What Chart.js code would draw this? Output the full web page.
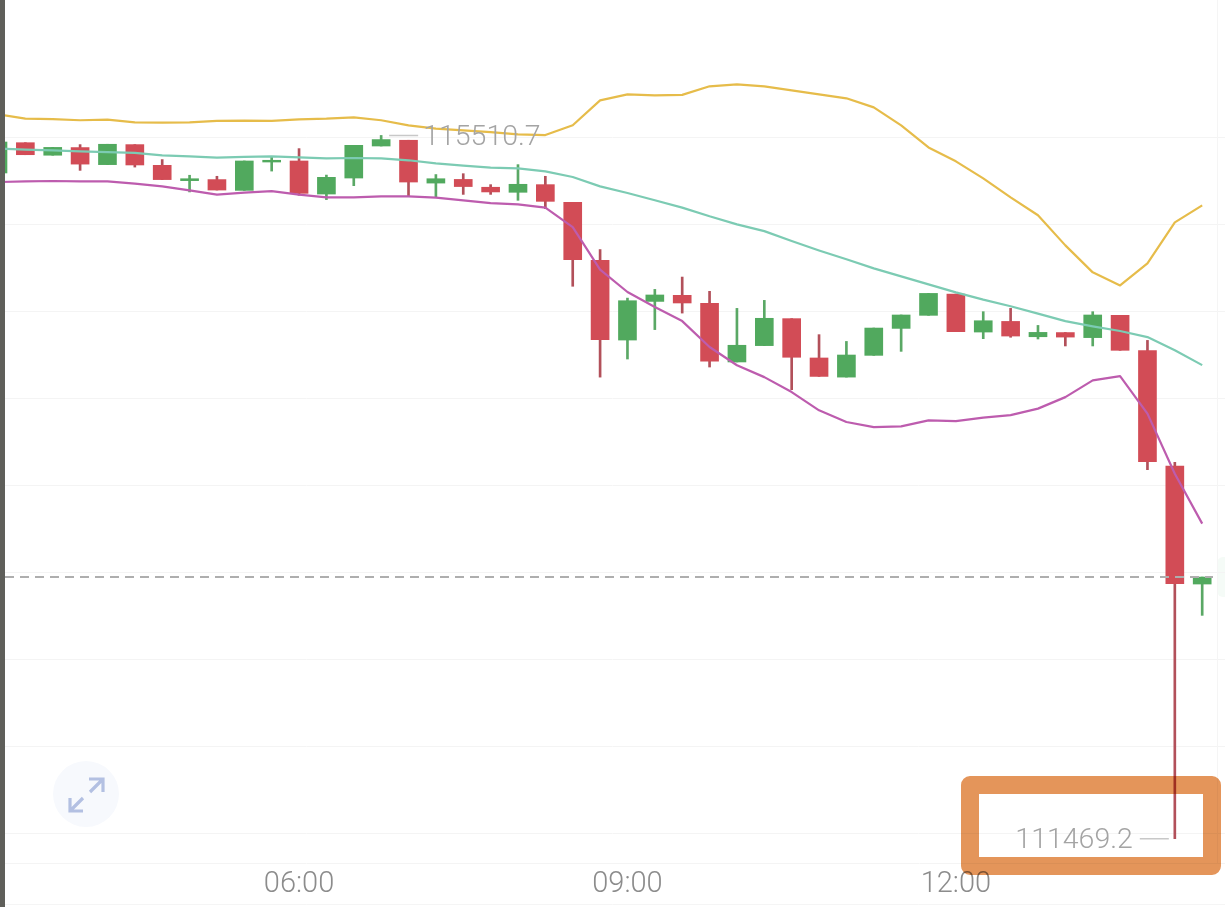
<!DOCTYPE html>
<html>
<head>
<meta charset="utf-8">
<title>Candlestick chart</title>
<script src="https://cdn.jsdelivr.net/npm/chart.js@4"></script>
<style>
  html, body { margin: 0; padding: 0; background: #fff; }
  #wrap { position: relative; width: 1225px; height: 907px; overflow: hidden; background: #fff; }
  #chart { position: absolute; left: 0; top: 0; }
  #edge { position: absolute; left: 0; top: 0; width: 5px; height: 907px; background: #5f5f5a; }
  #tag { position: absolute; left: 1217px; top: 557px; width: 8px; height: 40px; background: #f5fbf7; border-radius: 6px 0 0 6px; }
  #box {
    position: absolute; left: 961px; top: 776px; width: 224px; height: 63px;
    border: 18px solid #e4955a; border-radius: 9px; mix-blend-mode: multiply;
  }
  #expand { position: absolute; left: 52px; top: 760px; }
</style>
</head>
<body>
<div id="wrap">
  <div id="tag"></div>
  <canvas id="chart" width="1225" height="907"></canvas>
  <div id="edge"></div>
  <div id="box"></div>
  <svg id="expand" width="68" height="68" viewBox="52 760 68 68">
    <circle cx="86" cy="794" r="33" fill="#f7f9fd"/>
    <g fill="none" stroke="#b3c0e2" stroke-width="3.2">
      <path d="M89 779H103V792M103 779L90 792"/>
      <path d="M70 798V811H83M70 811L83 798"/>
    </g>
  </svg>
</div>
<script>
// ============================================================================
// DATA
// ============================================================================

// 15 minute candles
const candleTimes = [
  '03:15', '03:30', '03:45', '04:00', '04:15', '04:30', '04:45', '05:00', '05:15',
  '05:30', '05:45', '06:00', '06:15', '06:30', '06:45', '07:00', '07:15', '07:30',
  '07:45', '08:00', '08:15', '08:30', '08:45', '09:00', '09:15', '09:30', '09:45',
  '10:00', '10:15', '10:30', '10:45', '11:00', '11:15', '11:30', '11:45', '12:00',
  '12:15', '12:30', '12:45', '13:00', '13:15', '13:30', '13:45', '14:00', '14:15'
];
const candleOpen = [
  115295, 115469, 115397, 115441, 115343, 115458, 115339, 115251, 115257, 115195,
  115358, 115364, 115174, 115266, 115450, 115483, 115237, 115258, 115213, 115184,
  115228, 115126, 114793, 114335, 114557, 114592, 114546, 114209, 114303, 114458,
  114232, 114122, 114247, 114402, 114477, 114599, 114381, 114442, 114354, 114378,
  114349, 114477, 114274, 113611, 112933
];
const candleHigh = [
  115473, 115469, 115442, 115458, 115460, 115458, 115372, 115282, 115276, 115364,
  115387, 115435, 115283, 115454, 115510.7, 115483, 115286, 115291, 115228, 115343,
  115276, 115126, 114855, 114576, 114626, 114697, 114615, 114517, 114563, 114458,
  114366, 114327, 114404, 114479, 114603, 114599, 114498, 114517, 114419, 114378,
  114498, 114477, 114333, 113632, 112973
];
const candleLow = [
  115295, 115400, 115397, 115310, 115343, 115329, 115257, 115186, 115197, 115195,
  115306, 115167, 115142, 115222, 115450, 115161, 115153, 115172, 115172, 115138,
  115090, 114644, 114122, 114226, 114395, 114490, 114180, 114209, 114303, 114050,
  114126, 114122, 114247, 114270, 114477, 114383, 114343, 114351, 114341, 114301,
  114301, 114276, 113590, 111469.2, 112753
];
const candleClose = [
  115473, 115400, 115442, 115346, 115460, 115341, 115257, 115262, 115197, 115364,
  115368, 115178, 115270, 115454, 115487, 115243, 115262, 115217, 115186, 115230,
  115132, 114797, 114337, 114561, 114594, 114548, 114213, 114305, 114460, 114236,
  114126, 114249, 114404, 114479, 114603, 114383, 114446, 114358, 114379, 114352,
  114479, 114276, 113636, 112935, 112973
];
const bandUpper = [
  115632, 115607, 115605, 115598, 115602, 115586, 115584, 115586, 115594, 115596,
  115594, 115603, 115607, 115615, 115598, 115569, 115550, 115540, 115530, 115517,
  115513, 115569, 115712, 115747, 115741, 115744, 115793, 115804, 115793, 115770,
  115747, 115724, 115672, 115569, 115442, 115362, 115264, 115155, 115052, 114879,
  114724, 114649, 114776, 115011, 115109
];
const bandMiddle = [
  115435, 115429, 115425, 115419, 115415, 115410, 115396, 115391, 115383, 115387,
  115391, 115385, 115379, 115381, 115379, 115368, 115350, 115337, 115326, 115322,
  115304, 115272, 115218, 115180, 115138, 115096, 115046, 115000, 114961, 114904,
  114850, 114799, 114747, 114701, 114655, 114609, 114567, 114529, 114487, 114444,
  114414, 114387, 114352, 114276, 114191
];
const bandLower = [
  115243, 115247, 115249, 115247, 115247, 115234, 115218, 115195, 115171, 115182,
  115191, 115171, 115155, 115155, 115161, 115161, 115153, 115138, 115122, 115115,
  115096, 114984, 114740, 114611, 114525, 114444, 114295, 114190, 114122, 114036,
  113931, 113864, 113835, 113839, 113873, 113869, 113889, 113904, 113941, 114007,
  114103, 114128, 113912, 113567, 113280
];
const timeTicks = ['06:00', '09:00', '12:00'];
const priceTicks = [111500, 112000, 112500, 113000, 113500, 114000, 114500, 115000, 115500];

const highLabel = 115510.7;
const lowLabel = 111469.2;
const lastPrice = 112974;

// ============================================================================
// HELPERS
// ============================================================================

const RED = '#d24c56';
const GREEN = '#51a95e';
const RED_WICK = '#b2505a';
const GREEN_WICK = '#5aa865';

const toMinutes = t => parseInt(t.slice(0, 2), 10) * 60 + parseInt(t.slice(3), 10);
const toLabel = m => String(Math.floor(m / 60)).padStart(2, '0') + ':' + String(m % 60).padStart(2, '0');
const isUp = i => candleClose[i] >= candleOpen[i];

const bodyData = candleTimes.map((t, i) => ({ x: toMinutes(t), y: [candleOpen[i], candleClose[i]] }));
const wickData = candleTimes.map((t, i) => ({ x: toMinutes(t), y: [candleLow[i], candleHigh[i]] }));
const lineData = values => candleTimes.map((t, i) => ({ x: toMinutes(t), y: values[i] }));

function lineDataset(values, color, order) {
  return {
    type: 'line',
    data: lineData(values),
    borderColor: color,
    borderWidth: 2.2,
    borderJoinStyle: 'round',
    pointRadius: 0,
    tension: 0,
    order: order
  };
}

// Dashed price line, high/low labels and the faint frame lines
const annotationPlugin = {
  id: 'annotations',
  afterDatasetsDraw(chart) {
    const { ctx, scales: { x, y } } = chart;
    ctx.save();

    ctx.strokeStyle = '#f5f5f5';
    ctx.lineWidth = 1;
    ctx.beginPath();
    ctx.moveTo(1217.5, 0);
    ctx.lineTo(1217.5, 863);
    ctx.moveTo(0, 904.5);
    ctx.lineTo(1225, 904.5);
    ctx.stroke();

    const priceY = y.getPixelForValue(lastPrice);
    ctx.strokeStyle = '#aeaeae';
    ctx.lineWidth = 2;
    ctx.setLineDash([9, 6]);
    ctx.beginPath();
    ctx.moveTo(5, priceY);
    ctx.lineTo(1213, priceY);
    ctx.stroke();
    ctx.setLineDash([]);

    const highX = x.getPixelForValue(toMinutes(candleTimes[candleHigh.indexOf(highLabel)]));
    const highY = y.getPixelForValue(highLabel);
    const lowX = x.getPixelForValue(toMinutes(candleTimes[candleLow.indexOf(lowLabel)]));
    const lowY = y.getPixelForValue(lowLabel);

    ctx.strokeStyle = '#c8c8c8';
    ctx.lineWidth = 1.5;
    ctx.beginPath();
    ctx.moveTo(highX + 8, highY);
    ctx.lineTo(highX + 37, highY);
    ctx.moveTo(lowX - 35, lowY);
    ctx.lineTo(lowX - 6, lowY);
    ctx.stroke();

    ctx.fillStyle = '#a4a4a4';
    ctx.font = '300 28.5px Roboto';
    ctx.textBaseline = 'middle';
    ctx.textAlign = 'left';
    ctx.fillText(highLabel.toFixed(1), highX + 42, highY + 2);
    ctx.textAlign = 'right';
    ctx.fillText(lowLabel.toFixed(1), lowX - 42, lowY + 2);

    ctx.restore();
  }
};

// ============================================================================
// CHART
// ============================================================================

new Chart(document.getElementById('chart').getContext('2d'), {
  data: {
    datasets: [
      lineDataset(bandMiddle, '#7ccbb3', 1),
      lineDataset(bandUpper, '#e6bc4a', 2),
      lineDataset(bandLower, '#bd5cae', 3),
      {
        type: 'bar',
        data: bodyData,
        backgroundColor: candleTimes.map((t, i) => (isUp(i) ? GREEN : RED)),
        barThickness: 18,
        grouped: false,
        borderSkipped: false,
        order: 4
      },
      {
        type: 'bar',
        data: wickData,
        backgroundColor: candleTimes.map((t, i) => (isUp(i) ? GREEN_WICK : RED_WICK)),
        barThickness: 2,
        grouped: false,
        borderSkipped: false,
        order: 5
      }
    ]
  },
  options: {
    responsive: false,
    animation: false,
    layout: { padding: 0 },
    plugins: {
      legend: { display: false },
      tooltip: { enabled: false }
    },
    scales: {
      x: {
        type: 'linear',
        offset: false,
        min: 196.1,
        max: 867.5,
        grid: { display: false, drawTicks: false },
        border: { display: true, color: '#f4f4f4', width: 1 },
        afterBuildTicks: scale => {
          scale.ticks = timeTicks.map(t => ({ value: toMinutes(t) }));
        },
        afterFit: scale => {
          scale.height = 44;
        },
        ticks: {
          color: '#8c8c8c',
          padding: 4,
          maxRotation: 0,
          autoSkip: false,
          font: { family: 'Roboto', size: 29, weight: '300' },
          callback: value => toLabel(value)
        }
      },
      y: {
        type: 'linear',
        min: 111330,
        max: 116289,
        afterBuildTicks: scale => {
          scale.ticks = priceTicks.map(v => ({ value: v }));
        },
        afterFit: scale => {
          scale.width = 0;
        },
        grid: { color: '#f4f4f4', lineWidth: 1, drawTicks: false },
        border: { display: false },
        ticks: { display: false }
      }
    }
  },
  plugins: [annotationPlugin]
});
</script>
</body>
</html>
